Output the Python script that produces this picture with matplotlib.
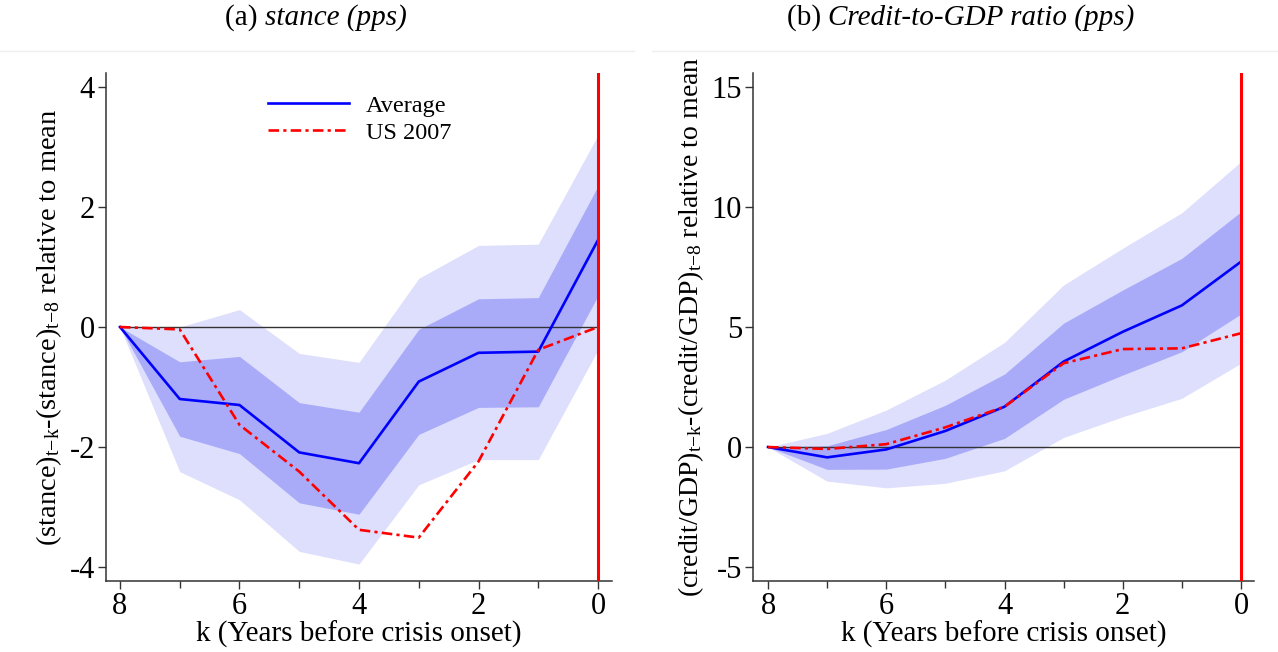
import numpy as np
import matplotlib
matplotlib.use("Agg")
import matplotlib.pyplot as plt
from matplotlib.lines import Line2D

plt.rcParams['font.family'] = ['Liberation Serif', 'DejaVu Serif']
plt.rcParams['mathtext.fontset'] = 'custom'
plt.rcParams['mathtext.rm'] = 'Liberation Serif'
plt.rcParams['mathtext.it'] = 'Liberation Serif:italic'

# years before crisis onset
k = [8, 7, 6, 5, 4, 3, 2, 1, 0]

# (a) stance
stance_avg = [0, -1.20, -1.30, -2.09, -2.27, -0.91, -0.43, -0.41, 1.45]
stance_us = [0, -0.04, -1.63, -2.41, -3.38, -3.51, -2.24, -0.38, 0.0]
stance_in_hi = [0, -0.58, -0.49, -1.26, -1.42, -0.04, 0.47, 0.49, 2.35]
stance_in_lo = [0, -1.82, -2.11, -2.93, -3.12, -1.79, -1.34, -1.33, 0.52]
stance_out_hi = [0, 0.0, 0.29, -0.44, -0.59, 0.81, 1.36, 1.38, 3.20]
stance_out_lo = [0, -2.41, -2.88, -3.74, -3.95, -2.63, -2.21, -2.21, -0.38]

# (b) credit-to-GDP
credit_avg = [0, -0.43, -0.10, 0.67, 1.68, 3.56, 4.80, 5.90, 7.72]
credit_us = [0, -0.08, 0.12, 0.82, 1.68, 3.49, 4.08, 4.11, 4.74]
credit_in_hi = [0, 0.05, 0.73, 1.74, 3.04, 5.16, 6.54, 7.86, 9.80]
credit_in_lo = [0, -0.93, -0.92, -0.47, 0.36, 1.99, 3.00, 3.97, 5.54]
credit_out_hi = [0, 0.57, 1.54, 2.79, 4.36, 6.75, 8.28, 9.76, 11.89]
credit_out_lo = [0, -1.42, -1.70, -1.51, -0.99, 0.40, 1.26, 2.03, 3.49]

light = '#dedffc'
dark = '#a9abf9'
us_dash = (4, 1.6, 1.2, 1.6)

fig = plt.figure(figsize=(12.78, 6.52), dpi=100)
ax1 = fig.add_axes([106 / 1278, 1 - 581 / 652, 506 / 1278, 508 / 652])
ax2 = fig.add_axes([753 / 1278, 1 - 581 / 652, 501 / 1278, 508 / 652])

panels = [
    (ax1, stance_avg, stance_us, stance_in_hi, stance_in_lo, stance_out_hi, stance_out_lo,
     (8.234, -0.234), (-4.233, 4.233), [-4, -2, 0, 2, 4],
     r'(stance)$_{\mathrm{t{-}k}}$-(stance)$_{\mathrm{t{-}8}}$ relative to mean', 20.5),
    (ax2, credit_avg, credit_us, credit_in_hi, credit_in_lo, credit_out_hi, credit_out_lo,
     (8.254, -0.22), (-5.58, 15.58), [-5, 0, 5, 10, 15],
     r'(credit/GDP)$_{\mathrm{t{-}k}}$-(credit/GDP)$_{\mathrm{t{-}8}}$ relative to mean', 20),
]

for ax, avg, us, ihi, ilo, ohi, olo, xl, yl, yt, ylab, yfs in panels:
    ax.fill_between(k, olo, ohi, color=light, lw=0, zorder=1)
    ax.fill_between(k, ilo, ihi, color=dark, lw=0, zorder=2)
    ax.plot([8, 0], [0, 0], color='#333333', lw=1.0, zorder=3)
    ax.plot(k, avg, color='#0000ff', lw=1.9, zorder=4)
    ax.plot(k, us, color='#ff0000', lw=1.9, dashes=us_dash, zorder=5)
    ax.axvline(0, color='#ff0000', lw=2.2, zorder=6)
    ax.set_xlim(*xl)
    ax.set_ylim(*yl)
    ax.set_xticks([8, 6, 4, 2, 0])
    ax.set_xticks([7, 5, 3, 1], minor=True)
    ax.set_yticks(yt)
    ax.set_yticklabels([str(v) for v in yt])
    for s in ['top', 'right']:
        ax.spines[s].set_visible(False)
    for s in ['left', 'bottom']:
        ax.spines[s].set_color('#333333')
        ax.spines[s].set_linewidth(1.1)
    ax.tick_params(which='both', direction='out', color='#333333', labelsize=22, width=1.0)
    ax.tick_params(which='major', length=6, pad=2)
    ax.tick_params(which='minor', length=5)
    ax.set_xlabel('k (Years before crisis onset)', fontsize=21, labelpad=0)
    ax.set_ylabel(ylab, fontsize=yfs, labelpad=4)

handles = [Line2D([], [], color='#0000ff', lw=1.9),
           Line2D([], [], color='#ff0000', lw=1.9, dashes=us_dash)]
ax1.legend(handles, ['Average', 'US 2007'], loc='upper left', bbox_to_anchor=(0.276, 1.0),
           frameon=False, fontsize=17.5, handlelength=3.35, handletextpad=0.7, labelspacing=0.2)

# panel titles
fig.text(265 / 1278, 1 - 18 / 652, '(a) ', ha='right', va='center', fontsize=21)
fig.text(265 / 1278, 1 - 18 / 652, 'stance (pps)', ha='left', va='center', fontsize=21,
         style='italic')
fig.text(828 / 1278, 1 - 18 / 652, '(b) ', ha='right', va='center', fontsize=21)
fig.text(828 / 1278, 1 - 18 / 652, 'Credit-to-GDP ratio (pps)', ha='left', va='center',
         fontsize=21, style='italic')

# thin separators under the titles
fig.add_artist(Line2D([0, 634 / 1278], [1 - 51 / 652] * 2, color='#eeeeee', lw=1.0))
fig.add_artist(Line2D([652 / 1278, 1], [1 - 51 / 652] * 2, color='#eeeeee', lw=1.0))

fig.savefig('out.png', dpi=100)
